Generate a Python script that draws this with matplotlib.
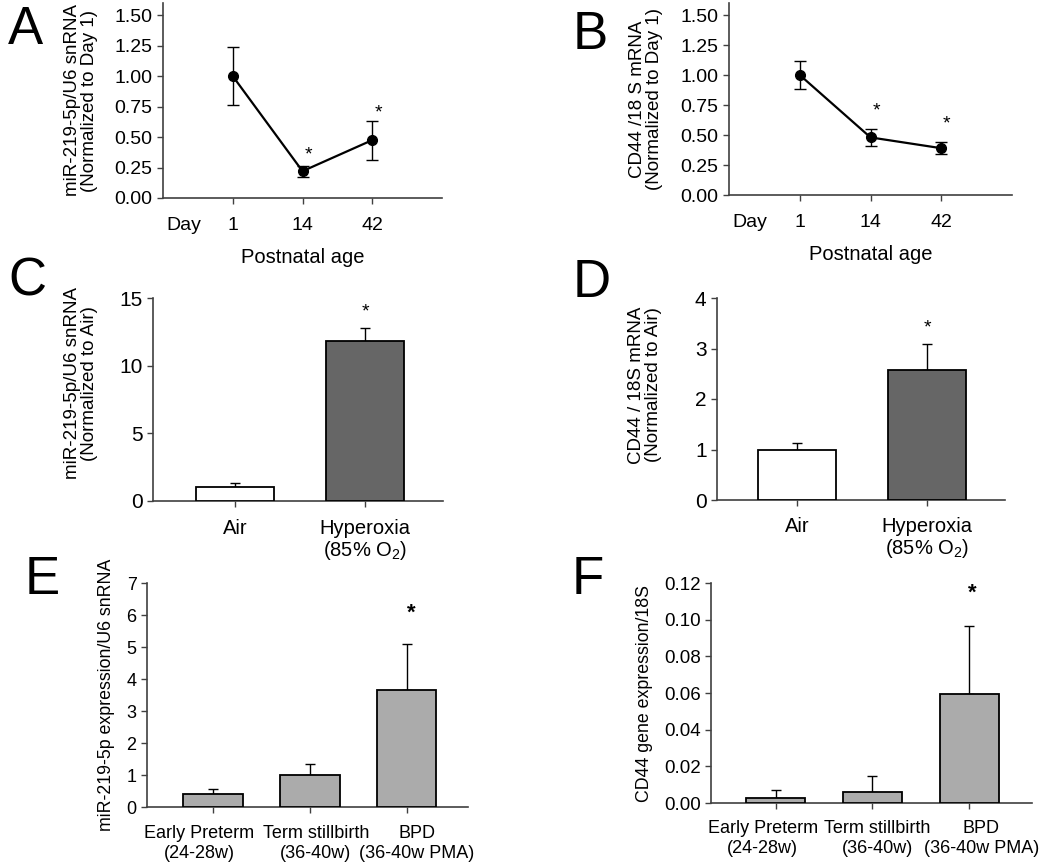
import numpy as np
import matplotlib
matplotlib.use('Agg')
import matplotlib.pyplot as plt
from matplotlib.ticker import FormatStrFormatter

plt.rcParams['font.family'] = ['Liberation Sans', 'DejaVu Sans']
plt.rcParams['mathtext.fontset'] = 'custom'
plt.rcParams['mathtext.rm'] = 'Liberation Sans'

# panel A / B : postnatal age time course
days = ['1', '14', '42']
a_mean = [1.0, 0.22, 0.475]
a_err = [0.235, 0.045, 0.16]
b_mean = [1.0, 0.48, 0.39]
b_err = [0.12, 0.07, 0.05]

# panel C / D : air vs hyperoxia
cd_groups = ['Air', 'Hyperoxia\n(85% O$_2$)']
c_mean = [1.0, 11.8]
c_err = [0.3, 1.0]
d_mean = [1.0, 2.58]
d_err = [0.13, 0.51]

# panel E / F : human samples
ef_groups = ['Early Preterm\n(24-28w)', 'Term stillbirth\n(36-40w)', 'BPD\n(36-40w PMA)']
e_mean = [0.42, 1.0, 3.65]
e_err = [0.15, 0.35, 1.45]
f_mean = [0.0028, 0.006, 0.0595]
f_err = [0.0044, 0.0085, 0.037]

W, H = 1050, 865
fig = plt.figure(figsize=(W/100., H/100.), dpi=100)

def px_axes(l, t, r, b):
    return fig.add_axes([l/float(W), 1-b/float(H), (r-l)/float(W), (b-t)/float(H)])

def style(ax, fs):
    for s in ['top', 'right']:
        ax.spines[s].set_visible(False)
    for s in ['left', 'bottom']:
        ax.spines[s].set_color('#404040')
        ax.spines[s].set_linewidth(1.2)
    ax.tick_params(axis='both', labelsize=fs, length=4, color='#404040', width=1)

def line_panel(ax, mean, err, ylabel, stars):
    x = np.arange(len(mean))
    ax.errorbar(x, mean, yerr=err, color='black', lw=1.6, marker='o', ms=7,
                capsize=4, elinewidth=1, capthick=1)
    ax.set_xlim(-1, 3)
    ax.set_ylim(0, 1.6)
    ax.set_yticks([0, 0.25, 0.5, 0.75, 1.0, 1.25, 1.5])
    ax.yaxis.set_major_formatter(FormatStrFormatter('%.2f'))
    ax.set_xticks(list(x))
    ax.set_xticklabels(days)
    ax.set_xticks([-0.7], minor=True)
    ax.set_xticklabels(['Day'], minor=True)
    style(ax, 14)
    ax.tick_params(axis='x', which='major', pad=10)
    ax.tick_params(axis='x', which='minor', length=0, pad=14, labelsize=14)
    ax.set_xlabel('Postnatal age', fontsize=14.5, labelpad=10)
    ax.set_ylabel(ylabel, fontsize=13.5, labelpad=12, linespacing=1.0)
    for sx, sy in stars:
        ax.text(sx, sy, '*', ha='center', va='center', fontsize=14)

def bar_panel(ax, groups, mean, err, color, width, fs_tick):
    x = np.arange(len(mean))
    ax.bar(x, mean, width=width, color=color, edgecolor='black', lw=1.3, zorder=3)
    ax.errorbar(x, mean, yerr=[[0]*len(err), err], fmt='none', ecolor='black',
                elinewidth=1, capsize=3.5, capthick=1, zorder=2)
    ax.set_xticks(list(x))
    ax.set_xticklabels([])
    style(ax, fs_tick)

def cat_labels(ax, groups, offsets, dy, fs, ls):
    # category labels under the axis, nudged like the original
    for i, g in enumerate(groups):
        ax.annotate(g, xy=(i, 0), xycoords=('data', 'axes fraction'),
                    xytext=(offsets[i], -dy), textcoords='offset pixels',
                    ha='center', va='top', fontsize=fs, linespacing=ls,
                    multialignment='center')

# A
ax = px_axes(163, 3, 442, 198)
line_panel(ax, a_mean, a_err, 'miR-219-5p/U6 snRNA\n(Normalized to Day 1)',
           [(1.08, 0.35), (2.09, 0.70)])
# B
ax = px_axes(729, 3, 1012, 195)
line_panel(ax, b_mean, b_err, 'CD44 /18 S mRNA\n(Normalized to Day 1)',
           [(1.09, 0.70), (2.08, 0.59)])
ax.yaxis.labelpad = 13

# C
ax = px_axes(153, 298, 443, 501)
bar_panel(ax, cd_groups, c_mean, c_err, ['white', '#666666'], 0.6, 15)
ax.set_xlim(-0.63, 1.6)
ax.set_ylim(0, 15)
ax.set_yticks([0, 5, 10, 15])
ax.set_ylabel('miR-219-5p/U6 snRNA\n(Normalized to Air)', fontsize=13.5, linespacing=1.0)
ax.yaxis.set_label_coords(-0.19, 0.58)
cat_labels(ax, cd_groups, [0, 0], 18, 14.5, 1.05)
ax.text(1, 14.0, '*', ha='center', va='center', fontsize=14)

# D
ax = px_axes(717, 298, 1005, 500)
bar_panel(ax, cd_groups, d_mean, d_err, ['white', '#666666'], 0.6, 15)
ax.set_xlim(-0.615, 1.6)
ax.set_ylim(0, 4)
ax.set_yticks([0, 1, 2, 3, 4])
ax.set_ylabel('CD44 / 18S mRNA\n(Normalized to Air)', fontsize=13.5, linespacing=1.0)
ax.yaxis.set_label_coords(-0.19, 0.57)
cat_labels(ax, cd_groups, [0, 0], 17, 14.5, 1.05)
ax.text(1, 3.4, '*', ha='center', va='center', fontsize=14)

# E
ax = px_axes(147, 583, 468, 807)
bar_panel(ax, ef_groups, e_mean, e_err, '#ababab', 0.61, 13)
ax.set_xlim(-0.68, 2.63)
ax.set_ylim(0, 7)
ax.set_yticks(range(8))
ax.set_ylabel('miR-219-5p expression/U6 snRNA', fontsize=12.8, labelpad=8)
cat_labels(ax, ef_groups, [-14, 6, 10], 18, 13, 1.25)
ax.text(2.05, 6.05, '*', ha='center', va='center', fontsize=16, fontweight='bold')

# F
ax = px_axes(711, 583, 1032, 803)
bar_panel(ax, ef_groups, f_mean, f_err, '#ababab', 0.61, 13.5)
ax.set_xlim(-0.67, 2.65)
ax.set_ylim(0, 0.12)
ax.set_yticks([0, 0.02, 0.04, 0.06, 0.08, 0.10, 0.12])
ax.yaxis.set_major_formatter(FormatStrFormatter('%.2f'))
ax.set_ylabel('CD44 gene expression/18S', fontsize=12.8, labelpad=8)
cat_labels(ax, ef_groups, [-13, 5, 12], 17, 13, 1.25)
ax.text(2.03, 0.1145, '*', ha='center', va='center', fontsize=16, fontweight='bold')

# panel letters
for lx, ly, letter in [(8, 5, 'A'), (573, 10, 'B'), (8, 257, 'C'), (573, 258, 'D'),
                       (25, 555, 'E'), (572, 555, 'F')]:
    fig.text(lx/float(W), 1-ly/float(H), letter, fontsize=38, ha='left', va='top')

fig.savefig('out.png', dpi=100)
